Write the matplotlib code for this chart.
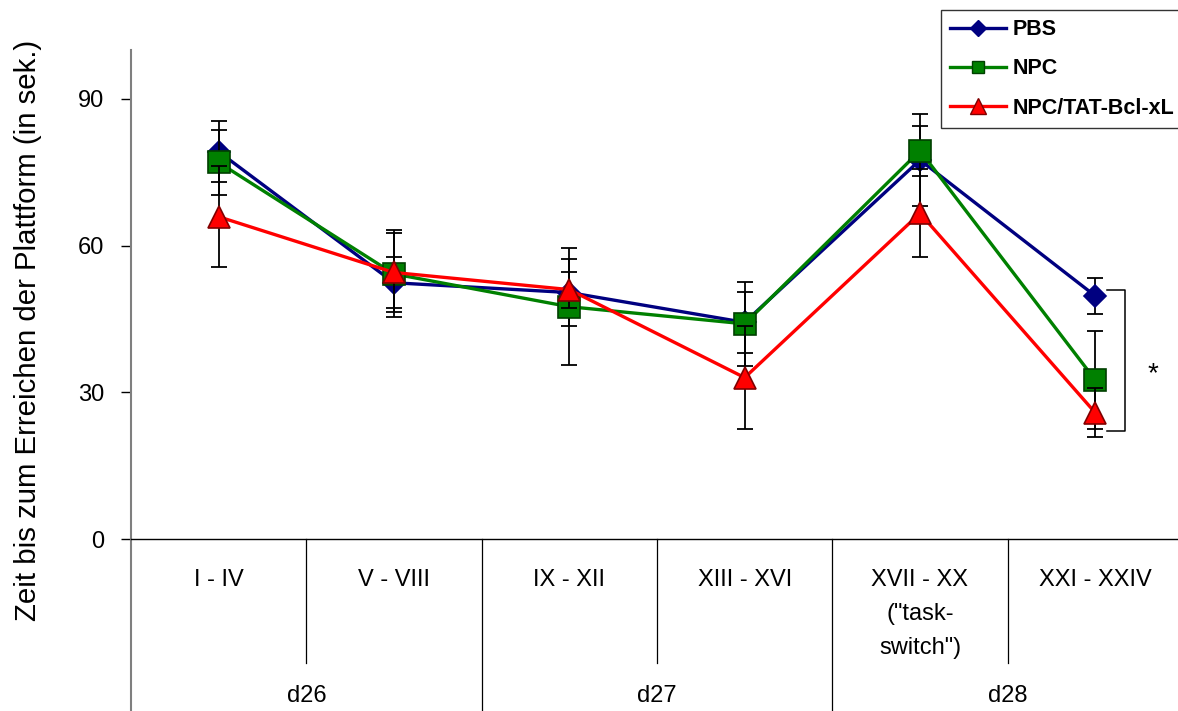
import matplotlib
matplotlib.use("Agg")
import matplotlib.pyplot as plt
import matplotlib.transforms as mtransforms
from matplotlib.lines import Line2D

plt.rcParams["font.family"] = ["Liberation Sans", "DejaVu Sans"]

# trial blocks and days
blocks = ["I - IV", "V - VIII", "IX - XII", "XIII - XVI", 'XVII - XX\n("task-\nswitch")', "XXI - XXIV"]
days = ["d26", "d27", "d28"]

# mean latency (s) and error per group
pbs_mean = [79.2, 52.4, 50.4, 44.3, 77.5, 49.7]
pbs_err = [6.2, 5.2, 6.8, 6.2, 9.4, 3.7]
npc_mean = [77.0, 54.2, 47.5, 44.0, 79.4, 32.5]
npc_err = [6.7, 8.9, 12.0, 8.6, 5.1, 10.0]
tat_mean = [65.9, 54.5, 51.0, 33.0, 66.6, 25.8]
tat_err = [10.3, 8.0, 3.7, 10.5, 9.0, 5.0]

series = [
    ("PBS", pbs_mean, pbs_err, "#000080", "#000080", "D", 11),
    ("NPC", npc_mean, npc_err, "#008000", "#004000", "s", 16),
    ("NPC/TAT-Bcl-xL", tat_mean, tat_err, "#ff0000", "#800000", "^", 16),
]

W, H = 1178, 711
fig = plt.figure(figsize=(W / 100, H / 100), dpi=100)
ax = fig.add_axes([131 / W, 172 / H, (1183 - 131) / W, (661 - 172) / H])

x = list(range(len(blocks)))
z = 3
for name, mean, err, color, edge, marker, ms in series:
    ax.plot(x, mean, color=color, lw=2.4, zorder=z, solid_joinstyle="round")
    ax.errorbar(x, mean, yerr=err, fmt="none", ecolor="black", elinewidth=1.3,
                capsize=6, capthick=1.3, zorder=z + 0.1)
    ax.plot(x, mean, ls="none", marker=marker, ms=ms, mfc=color, mec=edge,
            mew=1.2, zorder=z + 0.2)
    z += 1

ax.set_xlim(-0.5, len(blocks) - 0.5)
ax.set_ylim(0, 100)
ax.set_yticks([0, 30, 60, 90])
ax.tick_params(axis="y", direction="out", length=7, width=1, labelsize=17, pad=12)
ax.set_xticks([])
for s in ["top", "right", "left"]:
    ax.spines[s].set_visible(False)
ax.spines["bottom"].set_linewidth(1)

# two-level category axis drawn below the plot
trans = mtransforms.blended_transform_factory(ax.transData, ax.transAxes)
bottom = -172 / 489
short = (539 - 663) / 489
ax.plot([-0.5, -0.5], [bottom, 1], color="#7f7f7f", lw=1.5, transform=trans, clip_on=False)
for xb in [0.5, 2.5, 4.5]:
    ax.plot([xb, xb], [short, 0], color="black", lw=0.9, transform=trans, clip_on=False)
for xb in [1.5, 3.5]:
    ax.plot([xb, xb], [bottom, 0], color="black", lw=0.9, transform=trans, clip_on=False)
for i, lab in enumerate(blocks):
    ax.text(i, -0.062, lab, transform=trans, ha="center", va="top", fontsize=17,
            linespacing=1.7)
for j, d in enumerate(days):
    ax.text(2 * j + 0.5, -0.322, d, transform=trans, ha="center", va="center", fontsize=17)

ax.set_ylabel("Zeit bis zum Erreichen der Plattform (in sek.)", fontsize=21.2)
ax.yaxis.set_label_coords((42 - 131) / 1052, (711 - 330 - 172) / 489)

# significance bracket on the last block
last = len(blocks) - 1
top_v, bot_v = 50.9, 22.1
xa, xc = last + (1108 - 1096) / 175.3, last + (1126 - 1096) / 175.3
ax.plot([xa, xc, xc, xa], [top_v, top_v, bot_v, bot_v], color="black", lw=1.1,
        clip_on=False, zorder=2)
ax.text(last + (1154 - 1096) / 175.3, 33.6, "*", ha="center", va="center", fontsize=20)

handles = [Line2D([], [], color=c, lw=2.4, marker=m, ms=m_s, mfc=c, mec=e, mew=1)
           for (_, _, _, c, e, m, _), m_s in zip(series, [8, 9, 11])]
leg = fig.legend(handles, [s[0] for s in series], loc="upper left",
                 bbox_to_anchor=(941 / W, 1 - 10 / H), frameon=True, fancybox=False,
                 edgecolor="black", handlelength=2.6, handletextpad=0.3,
                 labelspacing=0.85, borderpad=0.42, borderaxespad=0,
                 prop={"weight": "bold", "size": 15.5})
leg.get_frame().set_linewidth(1)

fig.savefig("out.png", dpi=100)
